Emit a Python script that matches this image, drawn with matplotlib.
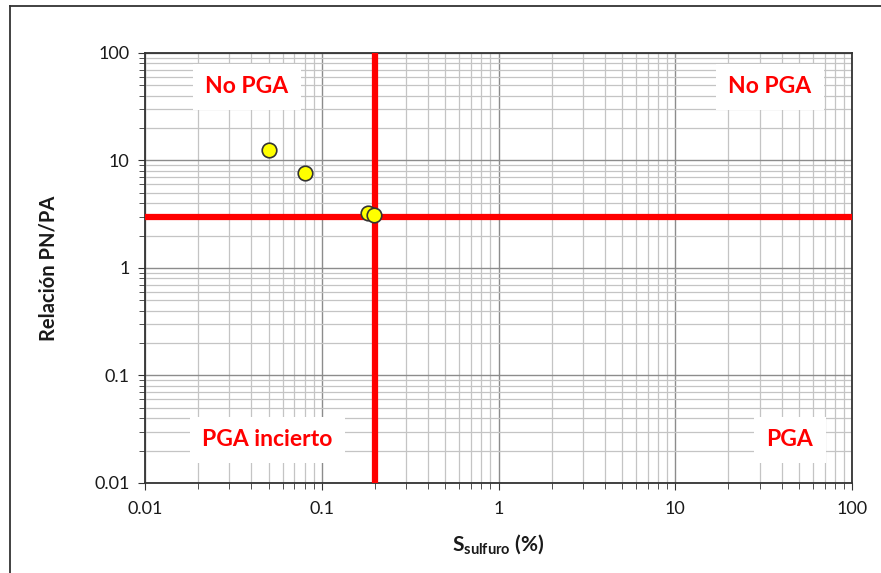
import matplotlib.pyplot as plt
from matplotlib.ticker import LogLocator, FixedFormatter, FixedLocator, NullFormatter
from matplotlib.lines import Line2D

plt.rcParams['font.family'] = ['Lato', 'DejaVu Sans']
plt.rcParams['mathtext.fontset'] = 'custom'
plt.rcParams['mathtext.bf'] = 'Lato:bold'
plt.rcParams['mathtext.rm'] = 'Lato'

# data
s_sulfuro = [0.05, 0.08, 0.183, 0.198]
relacion = [12.5, 7.7, 3.25, 3.12]
limite_s = 0.2
limite_pnpa = 3
ticks = [0.01, 0.1, 1, 10, 100]
tick_labels = ["0.01", "0.1", "1", "10", "100"]

W, H = 881, 573
fig = plt.figure(figsize=(W / 100, H / 100), dpi=100)
ax = fig.add_axes([145 / W, 1 - 483 / H, 707 / W, 430 / H])

# outer frame (only left and top edges show)
fx, fy = 10 / W, 1 - 6 / H
fig.lines.append(Line2D([fx, fx], [0, fy], transform=fig.transFigure,
                        color="#333333", linewidth=1.3))
fig.lines.append(Line2D([fx, 1], [fy, fy], transform=fig.transFigure,
                        color="#333333", linewidth=1.3))

ax.set_xscale("log")
ax.set_yscale("log")
ax.set_xlim(0.01, 100)
ax.set_ylim(0.01, 100)

ax.xaxis.set_major_locator(FixedLocator(ticks))
ax.yaxis.set_major_locator(FixedLocator(ticks))
ax.xaxis.set_major_formatter(FixedFormatter(tick_labels))
ax.yaxis.set_major_formatter(FixedFormatter(tick_labels))
for a in (ax.xaxis, ax.yaxis):
    a.set_minor_locator(LogLocator(base=10, subs=range(2, 10), numticks=20))
    a.set_minor_formatter(NullFormatter())

ax.grid(which="major", color="#8c8c8c", linewidth=1.0)
ax.grid(which="minor", color="#c4c4c4", linewidth=0.9)
ax.set_axisbelow(True)
ax.tick_params(which="both", direction="out", labelsize=13, color="#333333",
               labelcolor="#1a1a1a")
ax.tick_params(which="major", length=5)
ax.tick_params(which="minor", length=4)
ax.tick_params(axis="x", pad=8)
ax.tick_params(axis="y", pad=6)
for sp in ax.spines.values():
    sp.set_color("#333333")
    sp.set_linewidth(1.3)

# limit lines
ax.axvline(limite_s, color="#ff0000", linewidth=4.5, zorder=3)
ax.axhline(limite_pnpa, color="#ff0000", linewidth=4.5, zorder=3)

ax.scatter(s_sulfuro, relacion, s=110, color="#ffff00", edgecolor="#333333",
           linewidth=1.2, zorder=4)

# zone labels
box = dict(boxstyle="square,pad=0.55", facecolor="white", edgecolor="none")
lab = dict(transform=ax.transAxes, color="#ff0000", fontsize=16.5,
           fontweight="bold", ha="center", va="center", bbox=box, zorder=5)
ax.text(0.144, 0.921, "No PGA", **lab)
ax.text(0.884, 0.921, "No PGA", **lab)
ax.text(0.173, 0.1, "PGA incierto", **lab)
ax.text(0.912, 0.1, "PGA", **lab)

ax.set_ylabel("Relación PN/PA", fontsize=14.5, fontweight="bold", labelpad=26,
              color="#1a1a1a")
ax.set_xlabel(r"S$_{\mathbf{sulfuro}}$ (%)", fontsize=15, fontweight="bold",
              labelpad=11, color="#1a1a1a")

fig.savefig("out.png", dpi=100)
